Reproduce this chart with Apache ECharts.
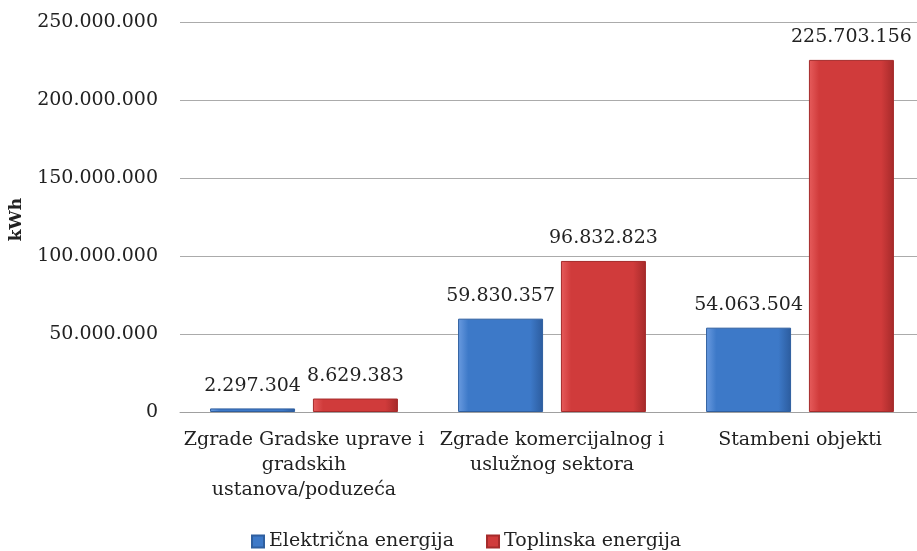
<!DOCTYPE html>
<html>
<head>
<meta charset="utf-8">
<script src="https://cdn.jsdelivr.net/npm/echarts@6/dist/echarts.min.js"></script>
<style>html,body{margin:0;padding:0;background:#fff}#c{width:917px;height:551px}</style>
</head>
<body>
<div id="c"></div>
<script>
var categories = ['Zgrade Gradske uprave i\ngradskih\nustanova/poduzeća', 'Zgrade komercijalnog i\nuslužnog sektora', 'Stambeni objekti'];
var seriesNames = ['Električna energija', 'Toplinska energija'];
var elektricna = [2297304, 59830357, 54063504];
var toplinska = [8629383, 96832823, 225703156];
var yTicks = [0, 50000000, 100000000, 150000000, 200000000, 250000000];
var yAxisTitle = 'kWh';

function fmt(v) {
  return String(Math.round(v)).replace(/\B(?=(\d{3})+(?!\d))/g, '.');
}
var FONT = 'DejaVu Serif';

function grad(c1, c2, c3) {
  return new echarts.graphic.LinearGradient(0, 0, 1, 0, [
    {offset: 0, color: c1}, {offset: 0.12, color: c2}, {offset: 0.85, color: c2}, {offset: 1, color: c3}
  ]);
}

var chart = echarts.init(document.getElementById('c'));
chart.setOption({
  animation: false,
  textStyle: {fontFamily: FONT},
  grid: {left: 180, width: 744, top: 22, height: 390, containLabel: false, outerBoundsMode: 'none'},
  legend: {
    bottom: -5, left: 246, itemWidth: 12, itemHeight: 12, itemGap: 32,
    textStyle: {fontFamily: FONT, fontSize: 19, color: '#222'},
    data: [
      {name: seriesNames[0], icon: 'rect'},
      {name: seriesNames[1], icon: 'rect'}
    ]
  },
  xAxis: {
    type: 'category', data: categories,
    axisLine: {lineStyle: {color: '#a0a0a0', width: 1}},
    axisTick: {show: false},
    axisLabel: {fontFamily: FONT, fontSize: 19, color: '#222', lineHeight: 25, margin: 16, interval: 0}
  },
  yAxis: {
    type: 'value', min: 0, max: 250000000, interval: 50000000,
    axisLine: {show: false}, axisTick: {show: false},
    splitLine: {lineStyle: {color: '#ababab', width: 1}},
    axisLabel: {fontFamily: FONT, fontSize: 19, color: '#222', margin: 22, formatter: fmt}
  },
  graphic: [{
    type: 'text', left: 8, top: 198, rotation: Math.PI / 2,
    style: {text: yAxisTitle, font: 'bold 17px "DejaVu Serif"', fill: '#222'}
  }],
  series: [
    {
      name: seriesNames[0], type: 'bar', data: elektricna, barWidth: 85, barGap: '21%',
      itemStyle: {color: grad('#6a9be0', '#3d79c8', '#2c5c9e'), borderColor: '#2f5f9f', borderWidth: 1},
      label: {show: true, position: 'top', distance: 13, fontFamily: FONT, fontSize: 19, color: '#222', formatter: function (p) { return fmt(p.value); }}
    },
    {
      name: seriesNames[1], type: 'bar', data: toplinska, barWidth: 85,
      itemStyle: {color: grad('#e65c5c', '#d03b3b', '#a52a2a'), borderColor: '#a52b2b', borderWidth: 1},
      label: {show: true, position: 'top', distance: 13, fontFamily: FONT, fontSize: 19, color: '#222', formatter: function (p) { return fmt(p.value); }}
    }
  ]
});
</script>
</body>
</html>
